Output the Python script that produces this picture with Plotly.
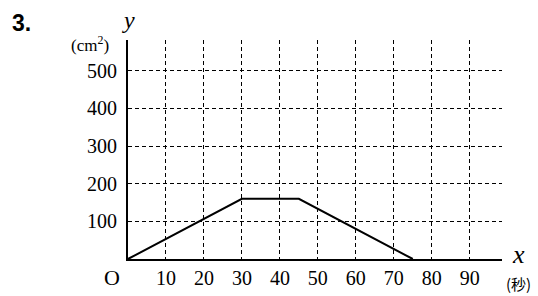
import plotly.graph_objects as go

x_vals = [0, 30, 45, 75]
y_vals = [0, 160, 160, 0]
x_ticks = [10, 20, 30, 40, 50, 60, 70, 80, 90]
y_ticks = [100, 200, 300, 400, 500]

serif = "Liberation Serif, Times New Roman, DejaVu Serif, serif"

L, R, T, B = 128, 36, 40, 37
W, H = 538, 296
PW, PH = W - L - R, H - T - B

fig = go.Figure()
fig.add_trace(go.Scatter(x=x_vals, y=y_vals, mode="lines",
                         line=dict(color="black", width=2), hoverinfo="skip"))

fig.update_layout(
    width=W, height=H,
    margin=dict(l=L, r=R, t=T, b=B, autoexpand=False),
    paper_bgcolor="white", plot_bgcolor="white",
    showlegend=False,
    font=dict(family=serif, color="black"),
)
fig.update_xaxes(range=[0, 98.5], tickvals=x_ticks, ticktext=[str(v) for v in x_ticks],
                 showgrid=True, gridcolor="black", gridwidth=1, griddash="4px,3px",
                 showline=True, linecolor="black", linewidth=2, zeroline=False,
                 ticks="", ticklabelstandoff=0, automargin=False,
                 tickfont=dict(family=serif, size=20, color="black"))
fig.update_yaxes(range=[0, 582], tickvals=y_ticks, ticktext=[str(v) for v in y_ticks],
                 showgrid=True, gridcolor="black", gridwidth=1, griddash="4px,3px",
                 showline=True, linecolor="black", linewidth=2, zeroline=False,
                 ticks="", ticklabelstandoff=5, automargin=False,
                 tickfont=dict(family=serif, size=20, color="black"))

ann = [
    dict(text="<b>3.</b>", x=22, y=23, font=dict(family="Liberation Sans, Arial, sans-serif", size=23)),
    dict(text="<i>y</i>", x=128, y=20, font=dict(family=serif, size=24)),
    dict(text="(cm<sup>2</sup>)", x=90, y=44, font=dict(family=serif, size=17)),
    dict(text="O", x=112, y=277, font=dict(family=serif, size=22)),
    dict(text="<i>x</i>", x=518, y=254, font=dict(family=serif, size=26)),
    dict(text="(秒)", x=518, y=283, font=dict(family="Noto Sans CJK JP", size=15)),
]
for a in ann:
    fig.add_annotation(text=a["text"], x=(a["x"] - L) / PW, y=(H - B - a["y"]) / PH,
                       xref="paper", yref="paper", showarrow=False,
                       xanchor="center", yanchor="middle",
                       font=dict(color="black", **a["font"]))

fig.write_html("out.html", config={"displayModeBar": False, "staticPlot": True},
               post_script="document.body.style.margin='0';document.body.style.overflow='hidden';")
